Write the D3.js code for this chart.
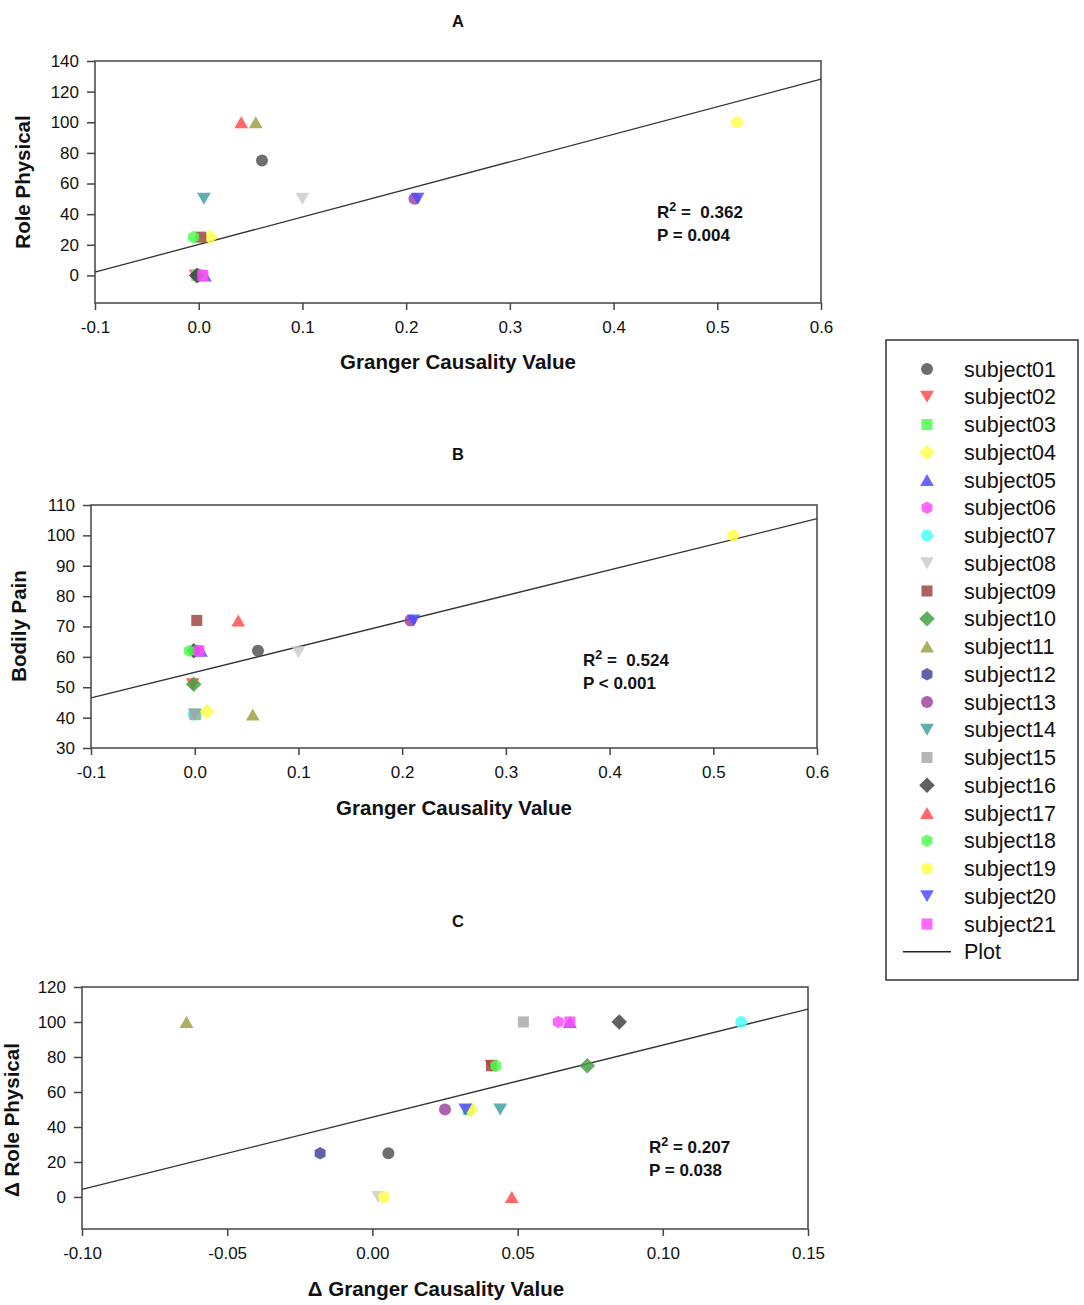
<!DOCTYPE html>
<html>
<head>
<meta charset="utf-8">
<script src="https://cdn.jsdelivr.net/npm/d3@7"></script>
<style>
  body { margin: 0; background: #fff; }
  svg text { font-family: "Liberation Sans", Arial, sans-serif; fill: #111; }
</style>
</head>
<body>
<svg id="fig" width="1084" height="1305"></svg>
<script>
// subjects, shapes and colours (legend order)
const subjects = d3.range(1, 22).map(i => "subject" + String(i).padStart(2, "0"));
const shapes = ["circle", "triDown", "square", "diamond", "triUp", "hexagon"];
const colors = ["#555555", "#ff4d4d", "#4dff4d", "#ffff4d", "#4d4dff", "#ff4dff", "#4dffff",
                "#cccccc", "#a04545", "#45a045", "#a0a045", "#4545a0", "#a045a0", "#45a0a0",
                "#aaaaaa", "#454545", "#ff4d4d", "#4dff4d", "#ffff4d", "#4d4dff", "#ff4dff"];

// panel A: Granger causality vs Role Physical
const xA = [0.061, -0.003, -0.002, 0.011, 0.006, 0.003, 0.000, 0.100, 0.002, -0.001, 0.055,
            0.000, 0.208, 0.005, 0.001, -0.002, 0.041, -0.005, 0.519, 0.211, 0.004];
const yA = [75, 0, 0, 25, 0, 0, 0, 50, 25, 0, 100, 0, 50, 50, 0, 0, 100, 25, 100, 50, 0];
const fitA = {intercept: 20.2, slope: 179.9};

// panel B: Granger causality vs Bodily Pain
const xB = [0.061, -0.002, 0.001, 0.012, 0.006, 0.003, -0.001, 0.100, 0.002, -0.001, 0.056,
            0.000, 0.208, 0.000, 0.000, -0.001, 0.042, -0.005, 0.519, 0.211, 0.004];
const yB = [62, 51, 41, 42, 62, 62, 41, 61.5, 72, 51, 41, 62, 72, 41, 41, 62, 72, 62, 100, 72, 62];
const fitB = {intercept: 54.9, slope: 84.3};

// panel C: change in Granger causality vs change in Role Physical
const xC = [0.0055, 0.041, 0.033, 0.034, 0.068, 0.064, 0.127, 0.002, 0.041, 0.074, -0.064,
            -0.018, 0.025, 0.044, 0.052, 0.085, 0.048, 0.0425, 0.004, 0.032, 0.068];
const yC = [25, 75, 50, 50, 100, 100, 100, 0, 75, 75, 100, 25, 50, 50, 100, 100, 0, 75, 0, 50, 100];
const fitC = {intercept: 45.6, slope: 412};

const panels = [
  {title: "A", xs: xA, ys: yA, fit: fitA, xDom: [-0.1, 0.6], yDom: [-18, 140],
   xTicks: d3.range(-0.1, 0.61, 0.1), yTicks: d3.range(0, 141, 20), xFmt: ".1f",
   box: {l: 95, r: 821, t: 61, b: 303}, titleY: 27,
   xLabel: "Granger Causality Value", xLabelX: 458, xLabelY: 369,
   yLabel: "Role Physical", yLabelX: 30, yLabelY: 182,
   stat: ["R", " =  0.362", "P = 0.004"], statX: 657, statY: 218},
  {title: "B", xs: xB, ys: yB, fit: fitB, xDom: [-0.1, 0.6], yDom: [30, 110],
   xTicks: d3.range(-0.1, 0.61, 0.1), yTicks: d3.range(30, 111, 10), xFmt: ".1f",
   box: {l: 91, r: 817, t: 505, b: 748}, titleY: 460,
   xLabel: "Granger Causality Value", xLabelX: 454, xLabelY: 815,
   yLabel: "Bodily Pain", yLabelX: 26, yLabelY: 626,
   stat: ["R", " =  0.524", "P < 0.001"], statX: 583, statY: 666},
  {title: "C", xs: xC, ys: yC, fit: fitC, xDom: [-0.1, 0.15], yDom: [-18.3, 120],
   xTicks: d3.range(-0.1, 0.151, 0.05), yTicks: d3.range(0, 121, 20), xFmt: ".2f",
   box: {l: 82, r: 808, t: 987, b: 1229}, titleY: 927,
   xLabel: "\u0394 Granger Causality Value", xLabelX: 436, xLabelY: 1296,
   yLabel: "\u0394 Role Physical", yLabelX: 19, yLabelY: 1120,
   stat: ["R", " = 0.207", "P = 0.038"], statX: 649, statY: 1153}
];

function markerPath(shape, r) {
  const p = d3.path();
  if (shape === "circle") {
    p.arc(0, 0, r, 0, 2 * Math.PI);
  } else if (shape === "square") {
    p.rect(-r * 0.92, -r * 0.92, r * 1.84, r * 1.84);
  } else if (shape === "diamond") {
    const d = r * 1.3;
    p.moveTo(0, -d); p.lineTo(d, 0); p.lineTo(0, d); p.lineTo(-d, 0); p.closePath();
  } else if (shape === "triUp" || shape === "triDown") {
    const s = shape === "triUp" ? 1 : -1;
    const w = r * 1.15, h = r * 1.0;
    p.moveTo(0, -s * h); p.lineTo(w, s * h); p.lineTo(-w, s * h); p.closePath();
  } else if (shape === "hexagon") {
    for (let k = 0; k < 6; k++) {
      const a = Math.PI / 3 * k - Math.PI / 2;
      const px = r * 1.05 * Math.cos(a), py = r * 1.05 * Math.sin(a);
      k === 0 ? p.moveTo(px, py) : p.lineTo(px, py);
    }
    p.closePath();
  }
  return p.toString();
}

const svg = d3.select("#fig");

panels.forEach(pn => {
  const x = d3.scaleLinear().domain(pn.xDom).range([pn.box.l, pn.box.r]);
  const y = d3.scaleLinear().domain(pn.yDom).range([pn.box.b, pn.box.t]);
  const g = svg.append("g");
  const fmt = d3.format(pn.xFmt);

  g.append("text").attr("x", 458).attr("y", pn.titleY)
    .attr("text-anchor", "middle").attr("font-size", 16.5).attr("font-weight", "bold")
    .text(pn.title);

  // frame
  g.append("rect").attr("x", pn.box.l).attr("y", pn.box.t)
    .attr("width", pn.box.r - pn.box.l).attr("height", pn.box.b - pn.box.t)
    .attr("fill", "none").attr("stroke", "#444").attr("stroke-width", 1.5);

  const xAxis = g.append("g").attr("transform", `translate(0,${pn.box.b})`)
    .call(d3.axisBottom(x).tickValues(pn.xTicks).tickFormat(d => fmt(d).replace("\u2212", "-"))
      .tickSize(7).tickSizeOuter(0).tickPadding(11));
  const yAxis = g.append("g").attr("transform", `translate(${pn.box.l},0)`)
    .call(d3.axisLeft(y).tickValues(pn.yTicks).tickFormat(d3.format("d"))
      .tickSize(8).tickSizeOuter(0).tickPadding(8));
  [xAxis, yAxis].forEach(a => {
    a.select(".domain").remove();
    a.selectAll(".tick line").attr("stroke", "#444").attr("stroke-width", 1.5);
    a.selectAll(".tick text").attr("font-size", 17).attr("fill", "#111")
      .attr("font-family", "'Liberation Sans', Arial, sans-serif");
  });

  g.append("text").attr("x", pn.xLabelX).attr("y", pn.xLabelY)
    .attr("text-anchor", "middle").attr("font-size", 20.5).attr("font-weight", "bold")
    .text(pn.xLabel);
  g.append("text").attr("transform", `translate(${pn.yLabelX},${pn.yLabelY}) rotate(-90)`)
    .attr("text-anchor", "middle").attr("font-size", 20.5).attr("font-weight", "bold")
    .text(pn.yLabel);

  // fitted line
  g.append("line")
    .attr("x1", x(pn.xDom[0])).attr("y1", y(pn.fit.intercept + pn.fit.slope * pn.xDom[0]))
    .attr("x2", x(pn.xDom[1])).attr("y2", y(pn.fit.intercept + pn.fit.slope * pn.xDom[1]))
    .attr("stroke", "#333").attr("stroke-width", 1.3);

  // points
  g.selectAll("path.pt").data(subjects).join("path").attr("class", "pt")
    .attr("transform", (d, i) => `translate(${x(pn.xs[i])},${y(pn.ys[i])})`)
    .attr("d", (d, i) => markerPath(shapes[i % 6], 6))
    .attr("fill", (d, i) => colors[i]).attr("fill-opacity", 0.85);

  // statistics
  const st = g.append("text").attr("x", pn.statX).attr("y", pn.statY)
    .attr("font-size", 17).attr("font-weight", "bold").style("white-space", "pre");
  st.append("tspan").text(pn.stat[0]);
  st.append("tspan").attr("dy", -7).attr("font-size", 12.5).text("2");
  st.append("tspan").attr("dy", 7).text(pn.stat[1]);
  g.append("text").attr("x", pn.statX).attr("y", pn.statY + 22.5)
    .attr("font-size", 17).attr("font-weight", "bold").text(pn.stat[2]);
});

// legend
const lg = svg.append("g");
lg.append("rect").attr("x", 886).attr("y", 340).attr("width", 192).attr("height", 640)
  .attr("fill", "#fff").attr("stroke", "#333").attr("stroke-width", 1.5);
const ly = d3.scaleLinear().domain([0, 20]).range([369, 924]);
subjects.forEach((s, i) => {
  lg.append("path").attr("transform", `translate(927,${ly(i)})`)
    .attr("d", markerPath(shapes[i % 6], 6))
    .attr("fill", colors[i]).attr("fill-opacity", 0.85);
  lg.append("text").attr("x", 964).attr("y", ly(i) + 7.5)
    .attr("font-size", 21.5).text(s);
});
lg.append("line").attr("x1", 903).attr("x2", 951).attr("y1", ly(21)).attr("y2", ly(21))
  .attr("stroke", "#222").attr("stroke-width", 1.5);
lg.append("text").attr("x", 964).attr("y", ly(21) + 7.5).attr("font-size", 21.5).text("Plot");
</script>
</body>
</html>
